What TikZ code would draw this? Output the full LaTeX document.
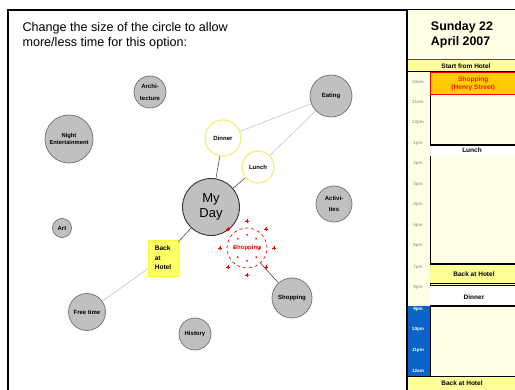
\documentclass[tikz,border=0pt]{standalone}
\usepackage{fontspec}
\setmainfont{Liberation Sans}
\usetikzlibrary{calc}
\definecolor{bubble}{HTML}{C0C0C0}
\definecolor{bubbleline}{HTML}{6E6E6E}
\definecolor{paneBg}{HTML}{FFFFE6}
\definecolor{rowYellow}{HTML}{FFFF99}
\definecolor{noteYellow}{HTML}{FFFF66}
\definecolor{shopFill}{HTML}{FFCC00}
\definecolor{nightBlue}{HTML}{0A64C8}
\definecolor{halo}{HTML}{F2F28C}
\tikzset{
  bub/.style={circle, draw=bubbleline, line width=0.7pt, fill=bubble, inner sep=0pt,
    align=center, font=\fontsize{6}{7}\selectfont\bfseries},
  meal/.style={circle, draw=halo, line width=1.4pt, fill=white, inner sep=0pt,
    align=center, font=\fontsize{6}{7}\selectfont\bfseries},
  linkdark/.style={draw=gray!60!black, line width=0.6pt},
  linklight/.style={draw=gray!45, line width=0.6pt},
  hourlbl/.style={font=\fontsize{4.6}{5}\selectfont\bfseries, text=gray!70},
  rowtxt/.style={font=\fontsize{6.5}{7}\selectfont\bfseries},
}
\begin{document}
\begin{tikzpicture}[x=1pt,y=-1pt]
\useasboundingbox (0,0) rectangle (515,390);
\fill[white] (0,0) rectangle (515,390);

% outer frame
\draw[line width=2pt] (8,391) -- (8,10) -- (516,10);

% instruction text
\node[anchor=west, font=\fontsize{12.6}{15}\selectfont, align=left] (hint) at (19,36)
  {Change the size of the circle to allow\\more/less time for this option:};

% ---- bubbles ----
\node[bub, minimum size=32pt, font=\fontsize{6}{12}\selectfont\bfseries] (arch) at (150,92) {Archi-\\tecture};
\node[bub, minimum size=48pt, font=\fontsize{5.8}{7}\selectfont\bfseries] (night) at (69,139) {Night\\Entertainment};
\node[bub, minimum size=19pt] (art) at (62,228) {Art};
\node[bub, minimum size=42pt] (eat) at (331,96) {Eating};
\node[meal, minimum size=36pt] (dinner) at (223,138) {Dinner};
\node[meal, minimum size=32pt] (lunch) at (258,167) {Lunch};
\node[bub, minimum size=57pt, draw=gray!40!black, line width=0.9pt,
      font=\fontsize{13}{14.5}\selectfont] (myday) at (211,207) {My\\Day};
\node[fill=noteYellow, draw=yellow!80!white, minimum width=30pt, minimum height=36pt,
      inner sep=2pt, align=left, font=\fontsize{6.6}{9.5}\selectfont\bfseries] (hotel) at (163,258)
  {Back\\at\\Hotel};
\node[bub, minimum size=36pt, font=\fontsize{6}{11}\selectfont\bfseries] (activ) at (334,204) {Activi-\\ties};
\node[bub, minimum size=40pt] (shop) at (292,298) {Shopping};
\node[bub, minimum size=37pt] (free) at (87,312) {Free time};
\node[bub, minimum size=32pt] (hist) at (195,334) {History};

% selected bubble with its resize handles
\node[circle, draw=red, dashed, line width=0.7pt, minimum size=40pt, inner sep=0pt,
      text=red, font=\fontsize{6}{7}\selectfont\bfseries] (shopsel) at (247,248) {Shopping};
\foreach \a in {0,45,...,315}{
  \draw[red, line width=0.6pt] ($(shopsel.center)+(\a:27)+(-2.2,0)$) -- ++(4.4,0)
        ($(shopsel.center)+(\a:27)+(0,-2.2)$) -- ++(0,4.4);
  \fill[red] ($(shopsel.center)+(\a:27)$) circle (1.1pt);
  \fill[red] ($(shopsel.center)+(\a:13)$) circle (1pt);
}

% ---- links ----
\draw[linkdark] (myday) -- (dinner);
\draw[linkdark] (myday) -- (lunch);
\draw[linkdark] (myday) -- (hotel);
\draw[linklight] (hotel) -- (free);
\draw[linklight] (dinner) -- (eat);
\draw[linklight] (lunch) -- (eat);
\draw[linkdark] (shopsel) -- (shop);

% ---- day planner panel ----
\fill[paneBg] (407,10) rectangle (515,390);
\node[font=\fontsize{12.4}{14.5}\selectfont\bfseries, align=left] (dayhead) at (462,35)
  {Sunday 22\\April 2007};
\draw[gray!60!black, line width=0.6pt] (407,59.5) -- (515,59.5);
\fill[rowYellow] (407,60) rectangle (515,71.5);
\draw[black, line width=0.6pt] (407,71.5) -- (515,71.5);
\node[rowtxt] (start) at (466,65.7) {Start from Hotel};

% hour column
\fill[nightBlue] (407,306) rectangle (430,377);
\draw[black, line width=0.8pt] (430,71.5) -- (430,377);
\foreach \t/\y in {10am/82,11am/102,12pm/122,1pm/143,2pm/163,3pm/184,4pm/204,5pm/225,6pm/245,7pm/267,8pm/287}{
  \node[hourlbl] at (418,\y) {\t};
}
\foreach \t/\y in {9pm/309,10pm/329,11pm/350,12am/371}{
  \node[hourlbl, text=white] at (418,\y) {\t};
}

% booked slots
\node[draw=red, line width=0.8pt, fill=shopFill, minimum width=85pt, minimum height=22.5pt,
      inner sep=0pt, anchor=north west, text=red!85!orange, align=center,
      font=\fontsize{6.6}{8}\selectfont\bfseries] (slotshop) at (430.4,72)
  {Shopping\\(Henry Street)};

\fill[white] (430.4,145) rectangle (515,156);
\draw[black, line width=1.2pt] (430,145) -- (515,145);
\node[rowtxt] (slotlunch) at (472,150.5) {Lunch};

\fill[rowYellow] (430.4,264) rectangle (515,283.5);
\draw[black, line width=1.2pt] (430,264) -- (515,264);
\draw[black, line width=0.6pt] (430,283.5) -- (515,283.5);
\node[rowtxt] (slothotel) at (474,274) {Back at Hotel};

\fill[white] (430.4,285.5) rectangle (515,306);
\draw[black, line width=0.6pt] (430,285.5) -- (515,285.5);
\draw[black, line width=1.2pt] (430,306) -- (515,306);
\node[rowtxt] (slotdinner) at (474,297) {Dinner};

% closing row
\fill[rowYellow] (407,377) rectangle (515,390);
\draw[black, line width=1pt] (407,377) -- (515,377);
\node[rowtxt] (endhotel) at (462,383.5) {Back at Hotel};

\draw[black, line width=1.4pt] (407,10) -- (407,390);
\end{tikzpicture}
\end{document}
